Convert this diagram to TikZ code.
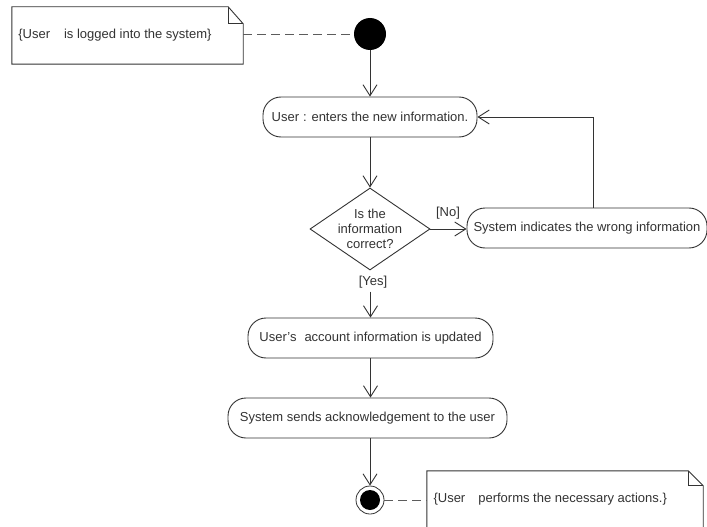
\documentclass[tikz,border=0pt]{standalone}
\usepackage{fontspec}
\setmainfont{Liberation Sans}
\usetikzlibrary{arrows.meta,shapes.geometric}
\definecolor{ink}{HTML}{333333}
\begin{document}
\begin{tikzpicture}[x=1pt,y=-1pt,
  every node/.style={font=\fontsize{13}{15}\selectfont, text=ink},
  action/.style={draw=ink, line width=0.9pt, rounded corners=18pt, minimum height=40pt, inner sep=0pt, fill=white},
  decision/.style={diamond, draw=ink, line width=0.9pt, minimum width=120pt, minimum height=82pt, inner sep=0pt, fill=white},
  startnode/.style={circle, fill=black, minimum size=32pt, inner sep=0pt},
  endnode/.style={circle, draw=ink, line width=0.8pt, minimum size=28pt, inner sep=0pt,
    path picture={\fill[black] (path picture bounding box.center) circle (10pt);}},
  notebox/.style={inner sep=0pt},
  notepath/.style={draw=ink, line width=0.9pt},
  flow/.style={draw=ink, line width=0.9pt, -{Straight Barb[length=11pt,width=14pt]}},
  anchorline/.style={draw=ink!80, line width=0.9pt, dash pattern=on 9pt off 5pt},
]
\path[use as bounding box, clip] (0,0) rectangle (707,527);
\fill[white] (0,0) rectangle (707,527);

% comment notes with folded corner
\node[notebox, minimum width=231pt, minimum height=57pt] (n1) at (127.5,35.5) {};
\draw[notepath, fill=white] (n1.south west) -- (n1.north west) -- ([xshift=-15pt]n1.north east)
  -- ([yshift=-17pt]n1.north east) -- (n1.south east) -- cycle;
\draw[notepath] ([xshift=-15pt]n1.north east) |- ([yshift=-17pt]n1.north east);
\node[anchor=west] (t1) at ([xshift=3pt]n1.west) {\{User\hspace{14pt}is logged into the system\}};

\node[notebox, minimum width=276pt, minimum height=64pt] (n2) at (565,503) {};
\draw[notepath, fill=white] (n2.south west) -- (n2.north west) -- ([xshift=-15pt]n2.north east)
  -- ([yshift=-15pt]n2.north east) -- (n2.south east) -- cycle;
\draw[notepath] ([xshift=-15pt]n2.north east) |- ([yshift=-15pt]n2.north east);
\node[anchor=west] (t2) at (430,499) {\{User\hspace{13pt}performs the necessary actions.\}};

% activity nodes
\node[startnode] (start) at (370,34) {};
\node[action, minimum width=214pt] (act1) at (370,117) {User\hspace{4pt}: enters the new information.};
\node[decision] (dec) at (370,229) {};
\node[align=center] (q) at (dec.center) {Is the\\information\\correct?};
\node[action, minimum width=240pt] (sys) at (587,228) {System indicates the wrong information};
\node[action, minimum width=245pt] (act3) at (370.5,338) {User's\hspace{8pt}account information is updated};
\node[action, minimum width=279pt] (act4) at (367.5,418) {System sends acknowledgement to the user};
\node[endnode] (end) at (370,500) {};

% guards
\node (no) at (448,213) {[No]};
\node (yes) at (373,282) {[Yes]};

% control flow
\draw[flow] (start) -- (act1);
\draw[flow] (act1) -- (dec);
\draw[flow] (dec.east) -- (dec.east -| sys.west);
\draw[flow] ([xshift=6pt]sys.north) |- (act1.east);
\draw[flow] (act3.north |- yes.south) -- (act3.north);
\draw[flow] (act3.south) -- (act3.south |- act4.north);
\draw[flow] (end.north |- act4.south) -- (end.north);

% note anchors
\draw[anchorline] (n1.east |- start.west) -- (start.west);
\draw[anchorline] (end.east) -- (end.east -| n2.west);
\end{tikzpicture}
\end{document}
